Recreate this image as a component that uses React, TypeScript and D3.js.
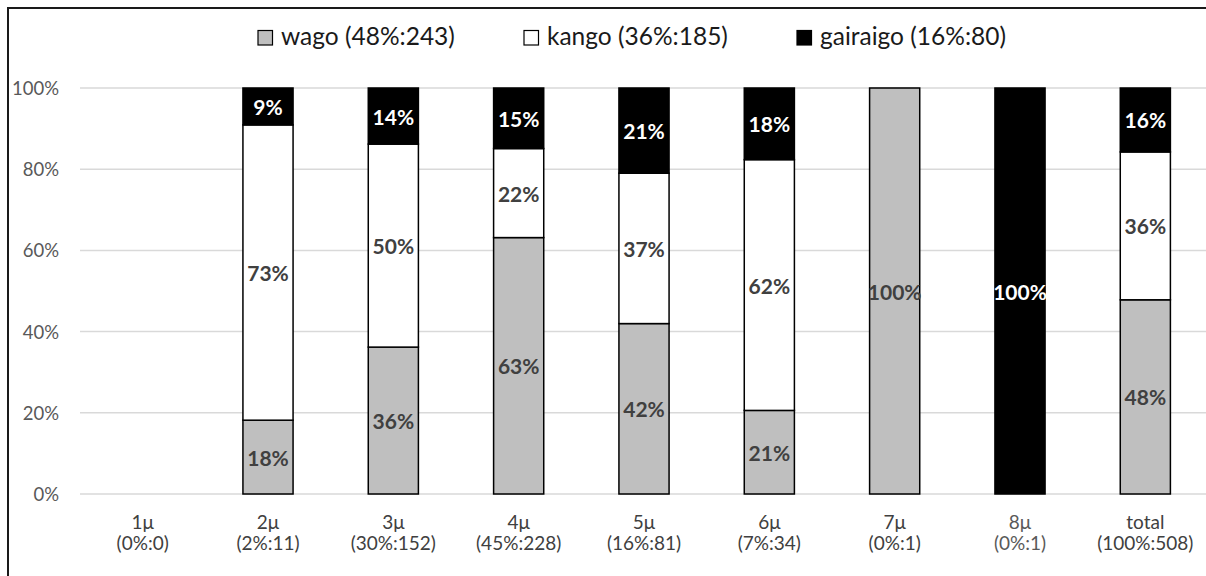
import React from "react";
import * as d3 from "d3";

const categories = ["1μ", "2μ", "3μ", "4μ", "5μ", "6μ", "7μ", "8μ", "total"];
const categoryNotes = ["(0%:0)", "(2%:11)", "(30%:152)", "(45%:228)", "(16%:81)", "(7%:34)", "(0%:1)", "(0%:1)", "(100%:508)"];
const wagoCounts = [0, 2, 55, 144, 34, 7, 1, 0, 243];
const kangoCounts = [0, 8, 76, 50, 30, 21, 0, 0, 185];
const gairaigoCounts = [0, 1, 21, 34, 17, 6, 0, 1, 80];
const seriesKeys = ["wago", "kango", "gairaigo"];
const legendLabels = ["wago (48%:243)", "kango (36%:185)", "gairaigo (16%:80)"];
const yTicks = [0, 0.2, 0.4, 0.6, 0.8, 1.0];

const W = 1206;
const H = 576;
const FONT = "Lato, 'Open Sans', sans-serif";
const fills: Record<string, string> = { wago: "#BFBFBF", kango: "#FFFFFF", gairaigo: "#000000" };
const labelColors: Record<string, string> = { wago: "#404040", kango: "#404040", gairaigo: "#FFFFFF" };
const legendX = [258, 524, 797];

export default function App() {
  const rows = categories.map((c, i) => {
    const total = wagoCounts[i] + kangoCounts[i] + gairaigoCounts[i];
    const f = (v: number) => (total > 0 ? v / total : 0);
    return { cat: c, wago: f(wagoCounts[i]), kango: f(kangoCounts[i]), gairaigo: f(gairaigoCounts[i]) };
  });
  const stacked = d3.stack<any>().keys(seriesKeys)(rows);

  const x = d3.scaleBand<string>().domain(categories).range([80, 1208]).paddingInner(0.6).paddingOuter(0.3);
  const y = d3.scaleLinear().domain([0, 1]).range([494, 88]);
  const bw = x.bandwidth();

  return (
    <svg width={W} height={H} style={{ position: "absolute", left: 0, top: 0, background: "#fff" }} fontFamily={FONT}>
      <rect x={0} y={0} width={W} height={H} fill="#fff" />
      <rect x={8} y={8} width={W + 50} height={H + 50} fill="none" stroke="#1a1a1a" strokeWidth={2} />
      {yTicks.map((t) => (
        <line key={t} x1={80} x2={W} y1={y(t)} y2={y(t)} stroke="#D9D9D9" strokeWidth={1.5} />
      ))}
      {yTicks.map((t) => (
        <text key={"l" + t} x={59} y={y(t)} textAnchor="end" dominantBaseline="central" fontSize={18.5} fill="#595959">
          {d3.format(".0%")(t)}
        </text>
      ))}
      {stacked.map((s) => (
        <g key={s.key}>
          {s.map((d, i) => {
            const h = y(d[0]) - y(d[1]);
            if (h <= 0) return null;
            return (
              <rect key={i} x={x(categories[i])} y={y(d[1])} width={bw} height={h} fill={fills[s.key]} stroke="#000" strokeWidth={1.5} />
            );
          })}
        </g>
      ))}
      {stacked.map((s) => (
        <g key={"t" + s.key}>
          {s.map((d, i) => {
            const v = d[1] - d[0];
            if (v <= 0) return null;
            return (
              <text key={i} x={(x(categories[i]) as number) + bw / 2} y={(y(d[0]) + y(d[1])) / 2} textAnchor="middle" dominantBaseline="central" fontWeight="bold" fontSize={21} fill={labelColors[s.key]}>
                {Math.round(v * 100) + "%"}
              </text>
            );
          })}
        </g>
      ))}
      {categories.map((c, i) => {
        const cx = (x(c) as number) + bw / 2;
        const col = c === "8μ" ? "#595959" : "#404040";
        return (
          <g key={"c" + c}>
            <text x={cx} y={529} textAnchor="middle" fontSize={19} fill={col}>{c}</text>
            <text x={cx} y={550} textAnchor="middle" fontSize={19} fill={col}>{categoryNotes[i]}</text>
          </g>
        );
      })}
      {seriesKeys.map((k, i) => (
        <g key={"lg" + k}>
          <rect x={legendX[i]} y={30.5} width={14.5} height={14.5} fill={fills[k]} stroke="#000" strokeWidth={1.2} />
          <text x={legendX[i] + 23} y={44.5} fontSize={24.5} fill="#1a1a1a">{legendLabels[i]}</text>
        </g>
      ))}
    </svg>
  );
}
